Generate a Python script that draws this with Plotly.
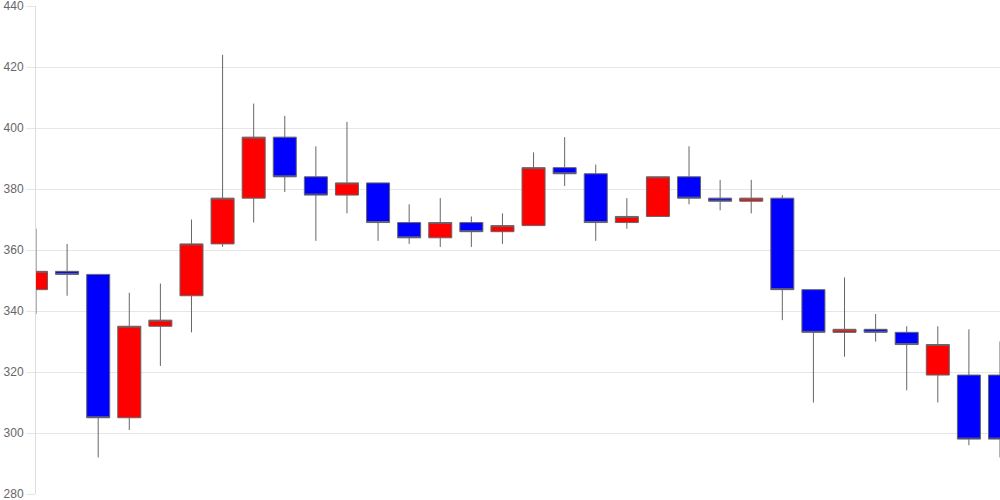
import plotly.graph_objects as go

# Daily OHLC values
days = list(range(32))
opens = [347, 353, 352, 305, 335, 345, 362, 377, 397, 384, 378, 382, 369, 364, 369, 366,
         368, 387, 385, 369, 371, 384, 377, 376, 377, 347, 333, 334, 333, 319, 319, 319]
highs = [367, 362, 352, 346, 349, 370, 424, 408, 404, 394, 402, 382, 375, 377, 371, 372,
         392, 397, 388, 377, 384, 394, 383, 383, 378, 347, 351, 339, 335, 335, 334, 330]
lows = [339, 345, 292, 301, 322, 333, 361, 369, 379, 363, 372, 363, 362, 361, 361, 362,
        368, 381, 363, 367, 371, 375, 373, 372, 337, 310, 325, 330, 314, 310, 296, 292]
closes = [353, 352, 305, 335, 337, 362, 377, 397, 384, 378, 382, 369, 364, 369, 366, 368,
          387, 385, 369, 371, 384, 377, 376, 377, 347, 333, 334, 333, 329, 329, 298, 298]

yTicks = [280, 300, 320, 340, 360, 380, 400, 420, 440]

fig = go.Figure()
fig.add_trace(go.Candlestick(
    x=days, open=opens, high=highs, low=lows, close=closes,
    increasing=dict(fillcolor="#ff0000", line=dict(color="#666666", width=1)),
    decreasing=dict(fillcolor="#0000ff", line=dict(color="#666666", width=1)),
    whiskerwidth=0,
    hoverinfo="skip",
    showlegend=False,
))

fig.update_layout(
    width=1000, height=500,
    margin=dict(l=36, r=0, t=6, b=6),
    paper_bgcolor="white", plot_bgcolor="white",
    boxgap=0.26, boxgroupgap=0,
    font=dict(family="Arial, Liberation Sans, sans-serif", size=12, color="#666666"),
    xaxis=dict(range=[0, 31], showticklabels=False, showgrid=False, zeroline=False,
               rangeslider=dict(visible=False), fixedrange=True),
    yaxis=dict(range=[280, 440], tickvals=yTicks, showgrid=True, gridcolor="#e6e6e6",
               zeroline=False, showline=True, linecolor="#dddddd",
               ticks="outside", ticklen=9, tickcolor="#e6e6e6", tickwidth=1,
               ticklabelstandoff=0, ticklabeloverflow="allow", automargin=False,
               fixedrange=True),
)

# page body has an 8px default margin; drop it so the chart fills the window
fig.write_html("out.html", config={"displayModeBar": False},
               post_script="document.body.style.margin='0';")
